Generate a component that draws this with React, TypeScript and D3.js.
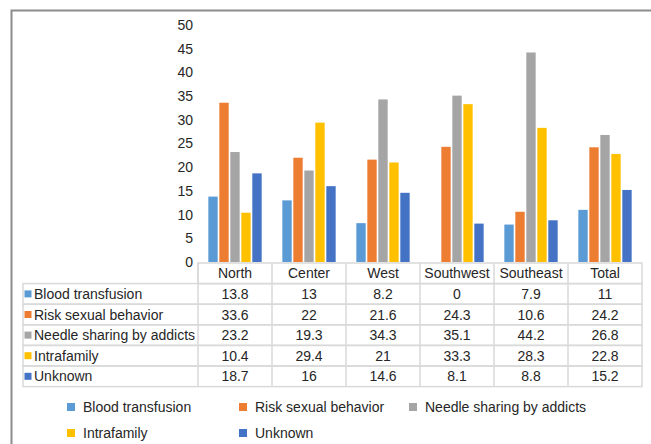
import React, { useEffect, useRef } from "react";
import * as d3 from "d3";

const regions = ["North", "Center", "West", "Southwest", "Southeast", "Total"];
const seriesNames = [
  "Blood transfusion",
  "Risk sexual behavior",
  "Needle sharing by addicts",
  "Intrafamily",
  "Unknown",
];
const bloodTransfusion = [13.8, 13, 8.2, 0, 7.9, 11];
const riskSexual = [33.6, 22, 21.6, 24.3, 10.6, 24.2];
const needleSharing = [23.2, 19.3, 34.3, 35.1, 44.2, 26.8];
const intrafamily = [10.4, 29.4, 21, 33.3, 28.3, 22.8];
const unknown = [18.7, 16, 14.6, 8.1, 8.8, 15.2];
const yTicks = [0, 5, 10, 15, 20, 25, 30, 35, 40, 45, 50];

const colors = ["#5B9BD5", "#ED7D31", "#A5A5A5", "#FFC000", "#4472C4"];

const App = () => {
  const ref = useRef<SVGSVGElement>(null);

  useEffect(() => {
    if (!ref.current) return;
    const svg = d3.select(ref.current);
    svg.selectAll("*").remove();

    const allSeries = [bloodTransfusion, riskSexual, needleSharing, intrafamily, unknown];
    const font = "'Liberation Sans', Arial, sans-serif";

    // outer frame (only top and left edges visible)
    svg.append("path")
      .attr("d", "M11.5,444 V10.5 H651")
      .attr("fill", "none")
      .attr("stroke", "#8c8c8c")
      .attr("stroke-width", 2);

    const x = d3.scaleBand().domain(regions).range([198, 642]);
    const inner = d3.scaleBand<number>()
      .domain(d3.range(seriesNames.length))
      .range([0, x.bandwidth()])
      .paddingOuter(0.94)
      .paddingInner(0.15);
    const y = d3.scaleLinear().domain([0, 50]).range([262, 25]);

    const textStyle = (sel: any) => sel
      .style("font-family", font)
      .style("font-size", "14px")
      .style("fill", "#262626");

    // y axis labels
    svg.append("g")
      .selectAll("text")
      .data(yTicks)
      .enter()
      .append("text")
      .attr("x", 193)
      .attr("y", d => y(d))
      .attr("dy", "0.35em")
      .attr("text-anchor", "end")
      .call(textStyle)
      .text(d => d);

    // bars
    allSeries.forEach((vals, si) => {
      svg.append("g")
        .selectAll("rect")
        .data(vals)
        .enter()
        .append("rect")
        .attr("x", (d, i) => (x(regions[i]) || 0) + (inner(si) || 0))
        .attr("y", d => y(d))
        .attr("width", inner.bandwidth())
        .attr("height", d => y(0) - y(d))
        .attr("fill", colors[si]);
    });

    // data table
    const headerTop = 263;
    const rowH = 20.6;
    const tableLeft = 23;
    const tableRight = 642;
    const grid = svg.append("g")
      .attr("fill", "none")
      .attr("stroke", "#d9d9d9")
      .attr("stroke-width", 1.5);

    grid.append("rect")
      .attr("x", 198).attr("y", headerTop)
      .attr("width", tableRight - 198).attr("height", rowH);
    for (let r = 0; r < seriesNames.length; r++) {
      grid.append("rect")
        .attr("x", tableLeft).attr("y", headerTop + rowH * (r + 1))
        .attr("width", tableRight - tableLeft).attr("height", rowH);
    }
    regions.forEach(reg => {
      grid.append("line")
        .attr("x1", x(reg) || 0).attr("x2", x(reg) || 0)
        .attr("y1", headerTop).attr("y2", headerTop + rowH * (seriesNames.length + 1));
    });

    svg.append("g")
      .selectAll("text")
      .data(regions)
      .enter()
      .append("text")
      .attr("x", d => (x(d) || 0) + x.bandwidth() / 2)
      .attr("y", headerTop + rowH / 2)
      .attr("dy", "0.36em")
      .attr("text-anchor", "middle")
      .call(textStyle)
      .text(d => d);

    seriesNames.forEach((name, si) => {
      const cy = headerTop + rowH * (si + 1.5);
      svg.append("rect")
        .attr("x", 24.5).attr("y", cy - 3.5)
        .attr("width", 7).attr("height", 7)
        .attr("fill", colors[si]);
      svg.append("text")
        .attr("x", 34).attr("y", cy)
        .attr("dy", "0.36em")
        .call(textStyle)
        .text(name);
      svg.append("g")
        .selectAll("text")
        .data(allSeries[si])
        .enter()
        .append("text")
        .attr("x", (d, i) => (x(regions[i]) || 0) + x.bandwidth() / 2)
        .attr("y", cy)
        .attr("dy", "0.36em")
        .attr("text-anchor", "middle")
        .call(textStyle)
        .text(d => d);
    });

    // legend
    const legendPos = [
      [67, 407], [239, 407], [409, 407],
      [67, 433], [239, 433],
    ];
    seriesNames.forEach((name, si) => {
      const [lx, ly] = legendPos[si];
      svg.append("rect")
        .attr("x", lx).attr("y", ly - 4)
        .attr("width", 8).attr("height", 8)
        .attr("fill", colors[si]);
      svg.append("text")
        .attr("x", lx + 16).attr("y", ly)
        .attr("dy", "0.36em")
        .call(textStyle)
        .text(name);
    });
  }, []);

  return (
    <div style={{ position: "absolute", left: 0, top: 0 }}>
      <svg ref={ref} width={651} height={444} style={{ display: "block", background: "#fff" }} />
    </div>
  );
};

export default App;
